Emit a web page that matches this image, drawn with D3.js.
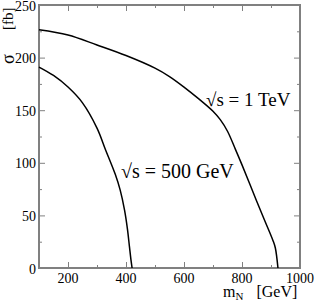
<!DOCTYPE html>
<html lang="en">
  <head>
    <meta charset="utf-8">
    <script type="text/javascript" src="https://cdn.jsdelivr.net/npm/d3@7"></script>
    <style>
      svg text { font-family: 'Liberation Serif', serif; }
    </style>
  </head>

  <body style="margin:0">
    <script>
      // curve for sqrt(s) = 500 GeV
      var mass500 = [100, 150, 200, 250, 300, 330, 363, 380, 395, 405, 412, 417, 421]
      var sigma500 = [191, 183, 172, 157, 133, 112, 89, 74, 55, 37, 20, 8, 0]

      // curve for sqrt(s) = 1 TeV
      var mass1000 = [100, 200, 300, 400, 500, 550, 600, 650, 700, 725, 750, 777, 800, 850, 880, 907, 915, 924]
      var sigma1000 = [226.5, 221.5, 212, 202, 190, 182, 172, 161, 149, 141, 130, 113, 98, 64, 44, 26, 19, 0]

      var xTicks = [200, 400, 600, 800, 1000]
      var xMinor = [300, 500, 700, 900]
      var yTicks = [0, 50, 100, 150, 200, 250]
      var yMinor = [25, 75, 125, 175, 225]

      var width = 316, height = 304
      var margin = {left: 39, top: 5, right: 16, bottom: 36}
      var w = width - margin.left - margin.right,
          h = height - margin.top - margin.bottom

      var svg = d3.select('body').append('svg').attr('width', width).attr('height', height)
      var g = svg.append('g').attr('transform', 'translate(' + margin.left + ',' + margin.top + ')')

      var x = d3.scaleLinear().domain([100, 1000]).range([0, w])
      var y = d3.scaleLinear().domain([0, 250]).range([h, 0])

      var axisColor = '#808080'

      // ticks on all four sides, pointing into the frame
      function tickGroup(axisFn, tr, values, size) {
        g.append('g').attr('class', 'ticks').attr('transform', tr)
          .call(axisFn.tickValues(values).tickSize(size).tickSizeOuter(0).tickFormat(''))
      }
      tickGroup(d3.axisBottom(x), 'translate(0,' + h + ')', xMinor, -3)
      tickGroup(d3.axisBottom(x), 'translate(0,' + h + ')', xTicks, -6)
      tickGroup(d3.axisTop(x), 'translate(0,0)', xMinor, -3)
      tickGroup(d3.axisTop(x), 'translate(0,0)', xTicks, -6)
      tickGroup(d3.axisLeft(y), 'translate(0,0)', yMinor, -3)
      tickGroup(d3.axisLeft(y), 'translate(0,0)', yTicks, -6)
      tickGroup(d3.axisRight(y), 'translate(' + w + ',0)', yMinor, -3)
      tickGroup(d3.axisRight(y), 'translate(' + w + ',0)', yTicks, -6)

      g.selectAll('.ticks .domain').remove()
      g.selectAll('.ticks line').attr('stroke', axisColor).attr('stroke-width', 1)
      g.selectAll('.ticks text').remove()

      // frame
      g.append('rect').attr('x', 0).attr('y', 0).attr('width', w).attr('height', h)
        .attr('fill', 'none').attr('stroke', axisColor).attr('stroke-width', 2)

      // tick labels
      g.selectAll('text.xl').data(xTicks).enter().append('text')
        .attr('class', 'xl')
        .attr('x', function(d) { return x(d) })
        .attr('y', h + 15)
        .attr('text-anchor', 'middle')
        .style('font-size', '14px')
        .text(function(d) { return d })

      g.selectAll('text.yl').data(yTicks).enter().append('text')
        .attr('class', 'yl')
        .attr('x', -3)
        .attr('y', function(d) { return y(d) + 5.5 })
        .attr('text-anchor', 'end')
        .style('font-size', '14px')
        .text(function(d) { return d })

      // axis titles
      var xt = svg.append('text').attr('x', 223).attr('y', 297).style('font-size', '16px')
      xt.append('tspan').text('m')
      xt.append('tspan').style('font-size', '11px').attr('dy', 3).text('N')
      xt.append('tspan').attr('dy', -3).attr('dx', 13).text('[GeV]')

      svg.append('text').attr('transform', 'translate(14,64) rotate(-90)')
        .style('font-size', '18px').text('σ')
      svg.append('text').attr('transform', 'translate(13,30) rotate(-90)')
        .style('font-size', '15px').text('[fb]')

      // curves
      var line = d3.line()
        .x(function(d) { return x(d[0]) })
        .y(function(d) { return y(d[1]) })
        .curve(d3.curveCatmullRom.alpha(0.5))

      g.append('path').datum(d3.zip(mass500, sigma500))
        .attr('d', line).attr('fill', 'none').attr('stroke', 'black').attr('stroke-width', 1.5)
      g.append('path').datum(d3.zip(mass1000, sigma1000))
        .attr('d', line).attr('fill', 'none').attr('stroke', 'black').attr('stroke-width', 1.5)

      // curve labels
      svg.append('text').attr('x', 121).attr('y', 178)
        .style('font-size', '20px').text('√s = 500 GeV')
      svg.append('text').attr('x', 206).attr('y', 106)
        .style('font-size', '19px').text('√s = 1 TeV')
    </script>
  </body>
</html>
